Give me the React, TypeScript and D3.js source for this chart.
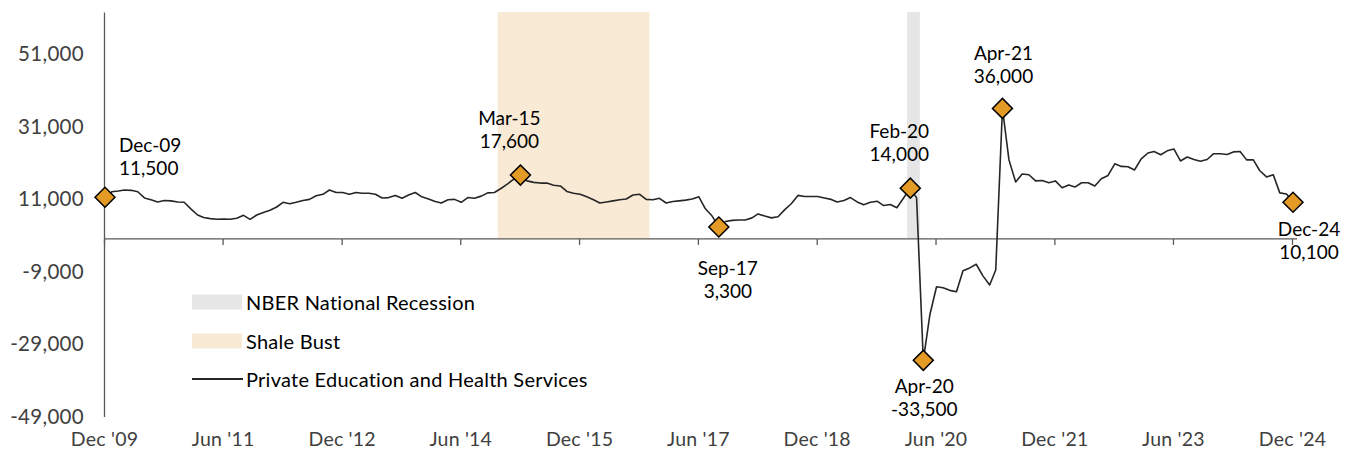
import React, { useEffect, useRef } from "react";
import * as d3 from "d3";

// monthly change, Dec 2009 .. Dec 2024
const firstMonth = new Date(2009, 11, 1);
const jobChange = [
  11500, 13000, 13200, 13500, 13400, 13000, 11300, 10800, 10200, 10600, 10500, 10200,
  10100, 8300, 6600, 5900, 5600, 5400, 5500, 5400, 5700, 6500, 5400, 6600,
  7300, 7900, 8800, 10100, 9700, 10100, 10600, 10900, 11900, 12300, 13500, 12800,
  12800, 12300, 12800, 12600, 12600, 12300, 11300, 11400, 12000, 11200, 12100, 12800,
  11600, 11000, 10300, 9900, 10800, 10900, 10100, 11400, 11200, 11800, 12700, 12800,
  13900, 15200, 16600, 17600, 16000, 15600, 15400, 15400, 14800, 14600, 13100, 12600,
  12300, 11600, 10800, 9900, 10200, 10500, 10800, 11000, 12100, 12300, 10900, 10800,
  11200, 9900, 10300, 10500, 10700, 11000, 11600, 8300, 6300, 3300, 4800, 5100,
  5200, 5200, 5800, 6900, 6300, 5800, 6100, 8000, 9700, 12000, 11700, 11700,
  11700, 11300, 10900, 10200, 10600, 11400, 10200, 9400, 10100, 10400, 9200, 9500,
  8600, 11300, 14000, 11300, -33500, -21000, -13200, -13500, -14200, -14600, -8800, -8000,
  -7000, -10200, -12700, -8600, 36000, 21800, 15700, 17900, 17700, 16000, 16100, 15500,
  16000, 14100, 14900, 14300, 15500, 15500, 14600, 16600, 17500, 20700, 20000, 19900,
  19000, 22100, 23700, 24100, 23200, 24300, 24800, 21500, 22600, 21900, 21400, 21900,
  23500, 23500, 23300, 24000, 24100, 21800, 21800, 18800, 17100, 17700, 12700, 12400,
  10100,
];

const yTicks = [-49000, -29000, -9000, 11000, 31000, 51000];
const yMin = -49000;
const yMax = 62600;

// labelled points (month offsets from Dec 2009)
const markerMonths = [0, 63, 93, 122, 124, 136, 180];
const markerNames = ["Dec-09", "Mar-15", "Sep-17", "Feb-20", "Apr-20", "Apr-21", "Dec-24"];

// shaded periods, first and last month inclusive
const shaleBust = [new Date(2014, 11, 1), new Date(2016, 9, 1)];
const nberRecession = [new Date(2020, 1, 1), new Date(2020, 2, 1)];

const seriesName = "Private Education and Health Services";

// label offsets from each marker: dx, dy of the first line, text-anchor
const labelLayout: [number, number, string][] = [
  [14, -53, "start"],
  [-11, -58, "middle"],
  [9, 40, "middle"],
  [-11, -58, "middle"],
  [1, 25, "middle"],
  [1, -56, "middle"],
  [16, 26, "middle"],
];

const FONT = "Lato, 'Open Sans', sans-serif";
// plain hyphen for negatives, like the original
const num = (v: number) => d3.format(",")(v).replace("\u2212", "-");

function App() {
  const ref = useRef<SVGSVGElement>(null);

  useEffect(() => {
    const svg = d3.select(ref.current);
    svg.selectAll("*").remove();

    const dates = jobChange.map((_, i) => d3.timeMonth.offset(firstMonth, i));
    const lastMonth = dates[dates.length - 1];

    const x = d3.scaleTime().domain([firstMonth, lastMonth]).range([105, 1293]);
    const y = d3.scaleLinear().domain([yMin, yMax]).range([416.5, 12]);
    const half = (d: Date, s: number) => d3.timeDay.offset(d, s * 15);

    // shading
    const bands = [
      { p: shaleBust, fill: "#F9EAD6" },
      { p: nberRecession, fill: "#E6E6E6" },
    ];
    svg
      .append("g")
      .selectAll("rect")
      .data(bands)
      .enter()
      .append("rect")
      .attr("x", (d) => x(half(d.p[0], -1)))
      .attr("width", (d) => x(half(d.p[1], 1)) - x(half(d.p[0], -1)))
      .attr("y", y(yMax))
      .attr("height", y(0) - y(yMax))
      .attr("fill", (d) => d.fill);

    // y axis
    const yAxis = svg
      .append("g")
      .attr("transform", "translate(104,0)")
      .call(d3.axisLeft(y).tickValues(yTicks).tickSize(0).tickPadding(20).tickFormat((d) => num(d as number)));
    yAxis.select(".domain").attr("stroke", "#595959").attr("stroke-width", 1.3);
    yAxis
      .selectAll("text")
      .attr("font-family", FONT)
      .attr("font-size", 20.5)
      .attr("letter-spacing", 0.3)
      .attr("fill", "#404040");

    // x axis line with ticks at zero
    const tickDates = d3.range(0, jobChange.length, 18).map((i) => dates[i]);
    const xAxis = svg
      .append("g")
      .attr("transform", `translate(-1,${y(0)})`)
      .call(d3.axisBottom(x).tickValues(tickDates).tickSize(6).tickSizeOuter(0).tickFormat(() => ""));
    xAxis.select(".domain").attr("stroke", "#595959").attr("stroke-width", 1.3).attr("d", "M105,0H1298");
    xAxis.selectAll("line").attr("stroke", "#595959").attr("stroke-width", 1.3);

    // x labels at the bottom
    const xLabels = svg
      .append("g")
      .attr("transform", "translate(-1,432)")
      .call(d3.axisBottom(x).tickValues(tickDates).tickSize(0).tickPadding(0).tickFormat((d) => d3.timeFormat("%b '%y")(d as Date)));
    xLabels.select(".domain").remove();
    xLabels
      .selectAll("text")
      .attr("font-family", FONT)
      .attr("font-size", 19.5)
      .attr("letter-spacing", 0.2)
      .attr("fill", "#404040");

    // series line
    const line = d3
      .line<number>()
      .x((_, i) => x(dates[i]))
      .y((d) => y(d));
    svg
      .append("path")
      .datum(jobChange)
      .attr("d", line)
      .attr("fill", "none")
      .attr("stroke", "#262626")
      .attr("stroke-width", 1.6)
      .attr("stroke-linejoin", "round");

    // markers
    const diamond = d3.symbol().type(d3.symbolSquare).size(200);
    svg
      .append("g")
      .selectAll("path")
      .data(markerMonths)
      .enter()
      .append("path")
      .attr("d", diamond)
      .attr("transform", (m) => `translate(${x(dates[m])},${y(jobChange[m])}) rotate(45)`)
      .attr("fill", "#E39B26")
      .attr("stroke", "#000")
      .attr("stroke-width", 1.5);

    // annotations
    const ann = svg.append("g").attr("font-family", FONT).attr("font-size", 19).attr("fill", "#000");
    markerMonths.forEach((m, k) => {
      const [dx, dy, anchor] = labelLayout[k];
      const cx = x(dates[m]) + dx;
      const cy = y(jobChange[m]) + dy;
      const t = ann.append("text").attr("text-anchor", anchor).attr("dominant-baseline", "central");
      t.append("tspan").attr("x", cx).attr("y", cy).text(markerNames[k]);
      t.append("tspan").attr("x", cx).attr("y", cy + 23).text(num(jobChange[m]));
    });

    // legend
    const legend = svg
      .append("g")
      .attr("font-family", FONT)
      .attr("font-size", 20)
      .attr("letter-spacing", 0.25)
      .attr("fill", "#000");
    const legendRows = [
      { label: "NBER National Recession", fill: "#E6E6E6", cy: 302 },
      { label: "Shale Bust", fill: "#F9EAD6", cy: 341 },
    ];
    legendRows.forEach((r) => {
      legend.append("rect").attr("x", 192).attr("y", r.cy - 7.5).attr("width", 50).attr("height", 15).attr("fill", r.fill);
      legend.append("text").attr("x", 246).attr("y", r.cy).attr("dominant-baseline", "central").text(r.label);
    });
    legend.append("line").attr("x1", 192).attr("x2", 243).attr("y1", 379).attr("y2", 379).attr("stroke", "#262626").attr("stroke-width", 1.8);
    legend.append("text").attr("x", 246).attr("y", 379).attr("dominant-baseline", "central").text(seriesName);
  });

  return (
    <svg
      ref={ref}
      width={1354}
      height={454}
      style={{ position: "absolute", left: 0, top: 0, background: "#fff" }}
    />
  );
}

export default App;
